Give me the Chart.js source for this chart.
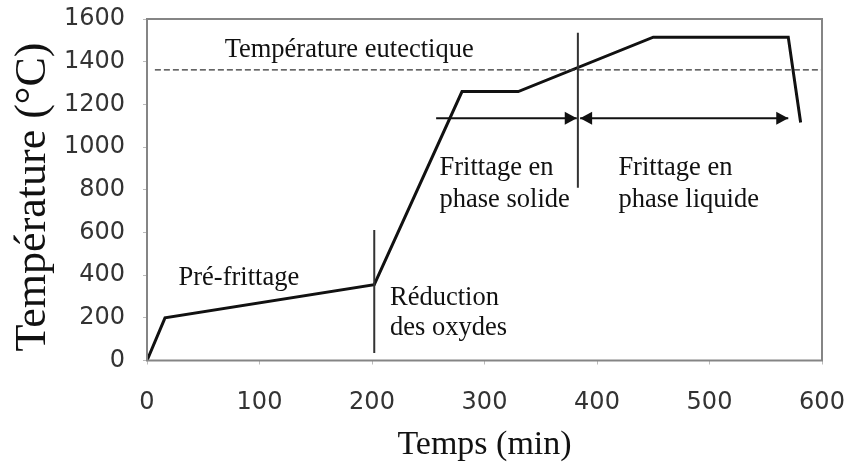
<!DOCTYPE html>
<html>
<head>
<meta charset="utf-8">
<script src="https://cdn.jsdelivr.net/npm/chart.js@4.4.0/dist/chart.umd.min.js"></script>
<style>
  body { margin: 0; background: #fff; }
</style>
</head>
<body>
<canvas id="frittage" width="850" height="466"></canvas>
<script>
// profil de frittage : temps (min) / température (°C)
const timeMin = [0, 16, 202, 280, 330, 450, 570, 581];
const tempC = [0, 200, 355, 1260, 1260, 1515, 1515, 1115];

const eutecticTemp = 1362;
const eutecticFrom = 7;
const eutecticTo = 600;

// traits verticaux (séparations de phases)
const markX = [202, 383];
const markBottom = [35, 809];
const markTop = [612, 1536];

// flèches horizontales
const arrowY = 1135;
const arrowSolid = [257, 382];
const arrowLiquid = [385, 570];

const xTicks = [0, 100, 200, 300, 400, 500, 600];
const yTicks = [0, 200, 400, 600, 800, 1000, 1200, 1400, 1600];

const noteText = ['Température eutectique', 'Pré-frittage', 'Réduction', 'des oxydes',
  'Frittage en', 'phase solide', 'Frittage en', 'phase liquide'];
const noteX = [69, 28, 216, 216, 260, 260, 419, 419];
const noteY = [1424, 354, 260, 120, 870, 720, 870, 720];

const serif = '"Liberation Serif", "Times New Roman", serif';
const sans = '"DejaVu Sans", sans-serif';

const pts = (xs, ys) => xs.map((x, i) => ({ x: x, y: ys[i] }));

// cadre gris autour de la zone de tracé
const framePlugin = {
  id: 'frame',
  afterDraw(chart) {
    const { ctx, chartArea: a } = chart;
    ctx.save();
    ctx.strokeStyle = '#858585';
    ctx.lineWidth = 2;
    ctx.strokeRect(a.left, a.top, a.right - a.left, a.bottom - a.top);
    ctx.restore();
  }
};

// pointes de flèches aux extrémités des segments
const arrowPlugin = {
  id: 'arrowHeads',
  afterDatasetsDraw(chart) {
    const ctx = chart.ctx;
    chart.data.datasets.forEach((ds, i) => {
      if (!ds.heads) return;
      const pts = chart.getDatasetMeta(i).data;
      ds.heads.forEach(h => {
        const tip = h === 'end' ? pts[pts.length - 1] : pts[0];
        const dir = h === 'end' ? 1 : -1;
        ctx.save();
        ctx.fillStyle = '#111';
        ctx.beginPath();
        ctx.moveTo(tip.x, tip.y);
        ctx.lineTo(tip.x - dir * 12, tip.y - 6.5);
        ctx.lineTo(tip.x - dir * 12, tip.y + 6.5);
        ctx.closePath();
        ctx.fill();
        ctx.restore();
      });
    });
  }
};

// annotations + titre de l'axe Y (un peu décalé vers le bas comme l'original)
const notesPlugin = {
  id: 'notes',
  afterDraw(chart) {
    const { ctx, scales } = chart;
    ctx.save();
    ctx.font = '26.5px ' + serif;
    ctx.fillStyle = '#111';
    ctx.textAlign = 'left';
    ctx.textBaseline = 'alphabetic';
    noteText.forEach((t, i) => {
      ctx.fillText(t, scales.x.getPixelForValue(noteX[i]), scales.y.getPixelForValue(noteY[i]));
    });
    ctx.translate(33, 197);
    ctx.rotate(-Math.PI / 2);
    ctx.font = '44px ' + serif;
    ctx.textAlign = 'center';
    ctx.textBaseline = 'middle';
    ctx.fillText('Température (°C)', 0, 0);
    ctx.restore();
  }
};

const lineDs = (data, extra) => Object.assign({
  data: data,
  showLine: true,
  borderColor: '#111',
  borderWidth: 2,
  pointRadius: 0,
  tension: 0,
  fill: false
}, extra);

new Chart(document.getElementById('frittage'), {
  type: 'scatter',
  data: {
    datasets: [
      lineDs([{ x: eutecticFrom, y: eutecticTemp }, { x: eutecticTo, y: eutecticTemp }],
        { borderColor: '#333', borderWidth: 1.3, borderDash: [6, 3] }),
      lineDs([{ x: markX[0], y: markBottom[0] }, { x: markX[0], y: markTop[0] }], { borderColor: '#333' }),
      lineDs([{ x: markX[1], y: markBottom[1] }, { x: markX[1], y: markTop[1] }], { borderColor: '#333' }),
      lineDs([{ x: arrowSolid[0], y: arrowY }, { x: arrowSolid[1], y: arrowY }], { heads: ['end'] }),
      lineDs([{ x: arrowLiquid[0], y: arrowY }, { x: arrowLiquid[1], y: arrowY }], { heads: ['start', 'end'] }),
      lineDs(pts(timeMin, tempC), { borderWidth: 3, borderJoinStyle: 'miter' })
    ]
  },
  options: {
    responsive: false,
    animation: false,
    devicePixelRatio: 1,
    layout: { padding: { left: 0, right: 28, top: 19, bottom: 0 } },
    plugins: {
      legend: { display: false },
      tooltip: { enabled: false }
    },
    scales: {
      x: {
        type: 'linear',
        min: 0,
        max: 600,
        afterBuildTicks: s => { s.ticks = xTicks.map(v => ({ value: v })); },
        afterFit: s => { s.height = 105.5; s.paddingLeft = 0; s.paddingRight = 0; },
        grid: { drawOnChartArea: false, tickLength: 4, color: '#bbb' },
        border: { display: false },
        ticks: {
          padding: 24,
          maxRotation: 0,
          color: '#333',
          font: { family: sans, size: 24 },
          callback: v => String(v)
        },
        title: {
          display: true,
          text: 'Temps (min)',
          color: '#111',
          padding: { top: 0, bottom: 1 },
          font: { family: serif, size: 34 }
        }
      },
      y: {
        min: 0,
        max: 1600,
        afterBuildTicks: s => { s.ticks = yTicks.map(v => ({ value: v })); },
        afterFit: s => { s.width = 147; s.paddingTop = 0; s.paddingBottom = 0; },
        grid: { drawOnChartArea: false, tickLength: 4, color: '#bbb' },
        border: { display: false },
        ticks: {
          padding: 18,
          color: '#333',
          font: { family: sans, size: 24 },
          callback: v => String(v)
        },
        title: { display: false }
      }
    }
  },
  plugins: [framePlugin, arrowPlugin, notesPlugin]
});
</script>
</body>
</html>
